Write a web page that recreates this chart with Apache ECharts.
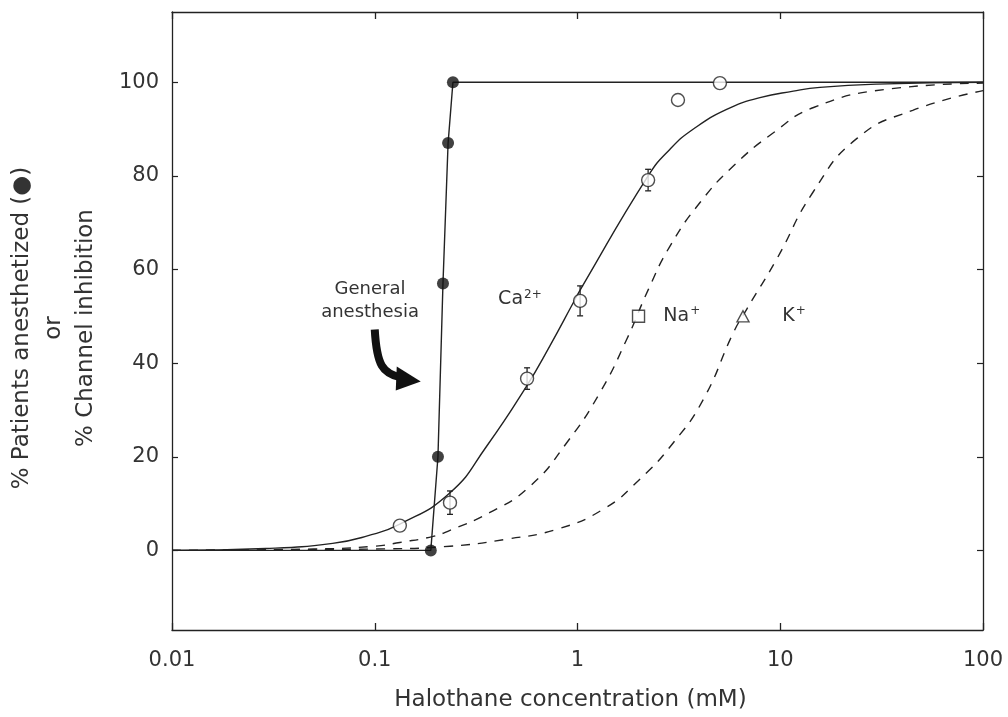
<!DOCTYPE html>
<html>
<head>
<meta charset="utf-8">
<script src="https://cdn.jsdelivr.net/npm/echarts@6/dist/echarts.min.js"></script>
<style>html,body{margin:0;padding:0;background:#fff;}#c{width:1008px;height:717px;}</style>
</head>
<body>
<div id="c"></div>
<script>
// ---- data ----
const xTicks = [0.01, 0.1, 1, 10, 100];
const yTicks = [0, 20, 40, 60, 80, 100];

// % patients anesthetized (filled circles) and its connecting line
const patientsPts = [[0.189, 0], [0.205, 20], [0.217, 57], [0.230, 87], [0.243, 100]];
const patientsLine = [[0.01, 0], [0.189, 0], [0.205, 20], [0.217, 57], [0.230, 87], [0.243, 100], [100, 100]];

// Ca2+ channel inhibition data (open circles) with error bars
const caX = [0.133, 0.235, 0.564, 1.03, 2.23, 3.13, 5.04];
const caY = [5.3, 10.2, 36.7, 53.3, 79.1, 96.2, 99.8];
const caErr = [0, 2.5, 2.3, 3.2, 2.3, 0, 0];

// Na+ and K+ single points
const naPt = [2.0, 50];
const kPt = [6.55, 50];

// fitted curves
const caCurve = [[0.01, 0], [0.029, 0.4], [0.062, 1.5], [0.092, 3.1], [0.133, 5.6], [0.235, 12.3], [0.357, 22.3],
  [0.561, 35.1], [0.731, 43.7], [0.953, 52.9], [1.03, 55.6], [2.23, 80], [2.86, 85.7], [3.73, 90], [5.44, 94.2],
  [7.94, 96.7], [11.6, 98.1], [15.7, 98.9], [30, 99.6], [100, 100]];
const naCurve = [[0.01, 0], [0.05, 0.3], [0.1, 0.9], [0.133, 1.7], [0.194, 3.0], [0.235, 4.3], [0.37, 8.1],
  [0.583, 13.7], [0.885, 23], [1.29, 33.7], [1.75, 45.1], [2.24, 55.8], [2.86, 65], [4.02, 74.3], [5.87, 82.1],
  [9.25, 89.2], [14.6, 94.6], [33.6, 98.5], [100, 99.8]];
const kCurve = [[0.01, 0], [0.1, 0.3], [0.235, 0.9], [0.447, 2.4], [0.788, 4.5], [1.34, 8.8], [2.03, 15.2],
  [2.97, 23], [4.18, 32.3], [5.87, 46.5], [6.83, 51.5], [9.6, 62.2], [14.5, 76.5], [23.9, 88], [45, 94], [100, 98.2]];

// annotation anchors (data coordinates)
const annGeneral = [0.0948, 53.4];
const annArrow = [0.1, 47.2];
const annCa = [0.52, 53.6];
const annNa = [3.27, 50];
const annK = [11.7, 50];

// ---- chart ----
const INK = '#222';
const TXT = '#333';
const FONT = 'DejaVu Sans';
const chart = echarts.init(document.getElementById('c'), null, {renderer: 'canvas'});

const caScatter = caX.map((x, i) => [x, caY[i]]);
const caBars = caX.map((x, i) => [x, caY[i] - caErr[i], caY[i] + caErr[i], caErr[i]]).filter(d => d[3] > 0);

const fmtX = v => String(Number(Number(v).toPrecision(3)));

const baseX = {
  type: 'log', logBase: 10, min: 0.01, max: 100,
  axisLine: {show: true, onZero: false, lineStyle: {color: INK, width: 1.3}},
  axisTick: {show: true, inside: true, length: 7, lineStyle: {color: INK, width: 1.3}, customValues: xTicks},
  splitLine: {show: false}, minorTick: {show: false}
};
const baseY = {
  type: 'value', min: -17, max: 115,
  axisLine: {show: true, onZero: false, lineStyle: {color: INK, width: 1.3}},
  axisTick: {show: true, inside: true, length: 6, lineStyle: {color: INK, width: 1.2}, customValues: yTicks},
  splitLine: {show: false}
};

chart.setOption({
  animation: false,
  backgroundColor: '#fff',
  grid: {left: 172, right: 25, top: 12, bottom: 87, containLabel: false, outerBoundsMode: 'none'},
  xAxis: [
    Object.assign({}, baseX, {
      position: 'bottom',
      axisLabel: {show: true, customValues: xTicks, formatter: fmtX, color: TXT, fontSize: 21, fontFamily: FONT, margin: 20},
      name: 'Halothane concentration (mM)', nameLocation: 'middle', nameGap: 59,
      nameTextStyle: {color: TXT, fontSize: 23, fontFamily: FONT, padding: [0, 14, 0, 0]}
    }),
    Object.assign({}, baseX, {position: 'top', axisLabel: {show: false}})
  ],
  yAxis: [
    Object.assign({}, baseY, {
      position: 'left',
      axisLabel: {show: true, customValues: yTicks, color: TXT, fontSize: 21, fontFamily: FONT, margin: 13},
      name: '% Patients anesthetized (\u25CF)\nor\n% Channel inhibition',
      nameLocation: 'middle', nameRotate: 90, nameGap: 70,
      nameTextStyle: {color: TXT, fontSize: 23, fontFamily: FONT, lineHeight: 32, align: 'center', padding: [0, 14, 0, 0]}
    }),
    Object.assign({}, baseY, {position: 'right', axisLabel: {show: false}})
  ],
  series: [
    {
      type: 'line', data: patientsLine, showSymbol: false, symbol: 'none',
      lineStyle: {color: INK, width: 1.4}, z: 3, silent: true
    },
    {
      type: 'line', data: caCurve, showSymbol: false, symbol: 'none', smooth: 0.5,
      lineStyle: {color: INK, width: 1.4}, z: 3
    },
    {
      type: 'line', data: naCurve, showSymbol: false, symbol: 'none', smooth: 0.5,
      lineStyle: {color: INK, width: 1.4, type: [9, 8]}, z: 3
    },
    {
      type: 'line', data: kCurve, showSymbol: false, symbol: 'none', smooth: 0.5,
      lineStyle: {color: INK, width: 1.4, type: [9, 8]}, z: 3
    },
    {
      type: 'custom', data: caBars, z: 4,
      renderItem: function (params, api) {
        const x = api.value(0);
        const lo = api.coord([x, api.value(1)]);
        const hi = api.coord([x, api.value(2)]);
        const w = 3;
        const st = {stroke: INK, lineWidth: 1.3};
        return {
          type: 'group', children: [
            {type: 'line', shape: {x1: lo[0], y1: lo[1], x2: hi[0], y2: hi[1]}, style: st},
            {type: 'line', shape: {x1: hi[0] - w, y1: hi[1], x2: hi[0] + w, y2: hi[1]}, style: st},
            {type: 'line', shape: {x1: lo[0] - w, y1: lo[1], x2: lo[0] + w, y2: lo[1]}, style: st}
          ]
        };
      }
    },
    {
      type: 'scatter', data: caScatter, symbol: 'circle', symbolSize: 13, z: 5,
      itemStyle: {color: '#fff', borderColor: INK, borderWidth: 1.4}
    },
    {
      type: 'scatter', data: [naPt], symbol: 'rect', symbolSize: 12, z: 5,
      itemStyle: {color: '#fff', borderColor: INK, borderWidth: 1.4}
    },
    {
      type: 'scatter', data: [kPt], symbol: 'triangle', symbolSize: [12, 11], z: 5,
      itemStyle: {color: '#fff', borderColor: INK, borderWidth: 1.4}
    },
    {
      type: 'scatter', data: patientsPts, symbol: 'circle', symbolSize: 12, z: 6,
      itemStyle: {color: '#111', borderColor: '#111', borderWidth: 0}
    }
  ]
});

function drawAnnotations() {
  const g = chart.convertToPixel({gridIndex: 0}, annGeneral);
  const a = chart.convertToPixel({gridIndex: 0}, annArrow);
  const c = chart.convertToPixel({gridIndex: 0}, annCa);
  const n = chart.convertToPixel({gridIndex: 0}, annNa);
  const k = chart.convertToPixel({gridIndex: 0}, annK);
  const ts = {fill: TXT, fontSize: 18, fontFamily: FONT, align: 'center', verticalAlign: 'middle'};
  const rich = {
    b: {fontSize: 19, fontFamily: FONT, fill: TXT, color: TXT},
    s: {fontSize: 12, fontFamily: FONT, fill: TXT, color: TXT, verticalAlign: 'top', padding: [0, 0, 10, 1]}
  };
  chart.setOption({
    graphic: [
      {type: 'text', x: g[0], y: g[1], style: Object.assign({}, ts, {text: 'General\nanesthesia', lineHeight: 23})},
      {type: 'text', x: c[0], y: c[1], style: {text: '{b|Ca}{s|2+}', rich: rich, align: 'center', verticalAlign: 'middle'}},
      {type: 'text', x: n[0], y: n[1], style: {text: '{b|Na}{s|+}', rich: rich, align: 'center', verticalAlign: 'middle'}},
      {type: 'text', x: k[0], y: k[1], style: {text: '{b|K}{s|+}', rich: rich, align: 'center', verticalAlign: 'middle'}},
      {type: 'bezierCurve', x: a[0], y: a[1],
        shape: {x1: 0, y1: 0, cpx1: 2, cpy1: 36, cpx2: 8, cpy2: 44, x2: 26, y2: 48},
        style: {stroke: '#111', lineWidth: 8, fill: null}},
      {type: 'polygon', x: a[0], y: a[1],
        shape: {points: [[22, 37], [46, 52], [21, 61]]},
        style: {fill: '#111'}}
    ]
  });
}
drawAnnotations();
</script>
</body>
</html>
